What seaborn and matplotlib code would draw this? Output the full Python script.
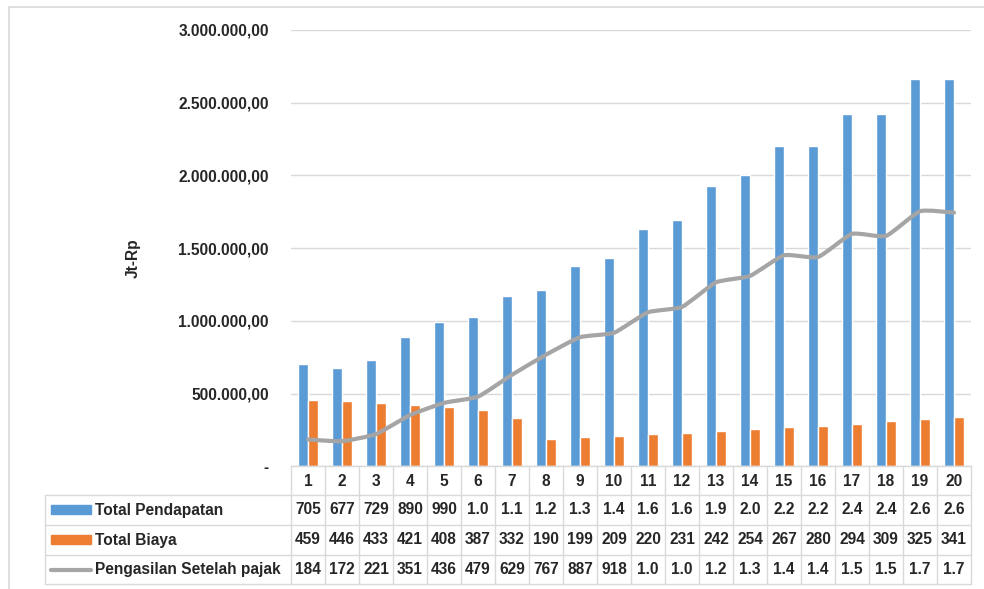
import matplotlib
matplotlib.use("Agg")
import matplotlib.pyplot as plt
import matplotlib.transforms as mtransforms
from matplotlib.path import Path
from matplotlib.patches import PathPatch, Rectangle
from matplotlib.lines import Line2D
import numpy as np
import pandas as pd
import seaborn as sns

# ---- data (Rupiah) ----
tahun = list(range(1, 21))
total_pendapatan = [705_400, 677_300, 729_100, 890_200, 990_500, 1_027_000, 1_168_000,
                    1_213_000, 1_380_000, 1_432_000, 1_630_000, 1_692_000, 1_930_000,
                    2_003_000, 2_201_000, 2_201_000, 2_423_000, 2_423_000, 2_664_000,
                    2_664_000]
total_biaya = [459_200, 446_100, 433_400, 421_300, 408_600, 387_500, 332_400, 190_300,
               199_800, 209_700, 220_200, 231_200, 242_800, 254_900, 267_700, 280_100,
               294_100, 309_800, 325_300, 341_500]
pengasilan_setelah_pajak = [184_300, 172_600, 221_400, 351_900, 436_200, 479_100, 629_500,
                            767_300, 887_600, 918_200, 1_059_000, 1_096_000, 1_265_000,
                            1_309_000, 1_451_000, 1_439_000, 1_598_000, 1_584_000,
                            1_754_000, 1_744_000]
series_names = ["Total Pendapatan", "Total Biaya", "Pengasilan Setelah pajak"]
y_ticks = [0, 500_000, 1_000_000, 1_500_000, 2_000_000, 2_500_000, 3_000_000]

BLUE, ORANGE, GRAY = "#5B9BD5", "#ED7D31", "#A5A5A5"
GRID = "#D9D9D9"

W, H = 984, 589
sns.set_theme(style="white")
plt.rcParams["font.family"] = ["Liberation Sans", "DejaVu Sans"]
plt.rcParams["font.weight"] = "bold"
FS = 11.2


def fx(px):
    return px / W


def fy(py):
    return 1 - py / H


def idr(v, decimals=2):
    s = f"{v:,.{decimals}f}"
    return s.replace(",", "_").replace(".", ",").replace("_", ".")


def cell_text(v):
    # narrow table cells only show the first three characters
    return idr(v, 0)[:3]


fig = plt.figure(figsize=(W / 100, H / 100), dpi=100)
ax = fig.add_axes([fx(291), fy(466.3), fx(971) - fx(291), fy(30) - fy(466.3)])

bars = pd.DataFrame({
    "Tahun": tahun * 2,
    "Nilai": total_pendapatan + total_biaya,
    "Seri": [series_names[0]] * 20 + [series_names[1]] * 20,
})
sns.barplot(data=bars, x="Tahun", y="Nilai", hue="Seri",
            palette=[BLUE, ORANGE], width=0.59, gap=0, dodge=True,
            legend=False, ax=ax, zorder=2, saturation=1)

# lightly smoothed profit line (Bezier segments through each point)
xs = np.arange(len(tahun), dtype=float)
ys = np.array(pengasilan_setelah_pajak, dtype=float)
verts = [(xs[0], ys[0])]
codes = [Path.MOVETO]
n = len(xs)
k = 1.0 / 12.0
for i in range(n - 1):
    p0 = np.array([xs[max(i - 1, 0)], ys[max(i - 1, 0)]])
    p1 = np.array([xs[i], ys[i]])
    p2 = np.array([xs[i + 1], ys[i + 1]])
    p3 = np.array([xs[min(i + 2, n - 1)], ys[min(i + 2, n - 1)]])
    c1 = p1 + (p2 - p0) * k
    c2 = p2 - (p3 - p1) * k
    verts += [tuple(c1), tuple(c2), tuple(p2)]
    codes += [Path.CURVE4] * 3
ax.add_patch(PathPatch(Path(verts, codes), facecolor="none", edgecolor=GRAY,
                       lw=3.0, capstyle="round", joinstyle="round",
                       transform=ax.transData, zorder=3))

ax.set_xlim(-0.5, len(tahun) - 0.5)
ax.set_ylim(0, 3_000_000)
ax.set_yticks(y_ticks)
ax.set_yticklabels(["-" if v == 0 else idr(v) for v in y_ticks],
                   fontsize=FS, fontweight="bold")
ax.tick_params(axis="y", length=0, pad=16)
ax.set_xticks([])
ax.set_xlabel("")
ax.set_ylabel("")
ax.yaxis.grid(True, color=GRID, lw=1.0, zorder=0)
ax.set_axisbelow(True)
for side in ["top", "right", "left"]:
    ax.spines[side].set_visible(False)
ax.spines["bottom"].set_color(GRID)
ax.spines["bottom"].set_linewidth(1.0)

fig.text(fx(133), fy(258), "Jt-Rp", rotation=90, ha="center", va="center",
         fontsize=FS, fontweight="bold")

# ---- data table below the plot ----
bt = mtransforms.blended_transform_factory(ax.transData, fig.transFigure)
row_edges = [466.3, 495, 525, 554.5, 584]
x_left, x_split, x_right = 45, 291, 971
lk = dict(color=GRID, lw=1.0)

for yv in row_edges[1:]:
    fig.add_artist(Line2D([fx(x_left), fx(x_right)], [fy(yv), fy(yv)], **lk))
fig.add_artist(Line2D([fx(x_left), fx(x_left)], [fy(495), fy(584)], **lk))
fig.add_artist(Line2D([fx(x_split), fx(x_split)], [fy(466.3), fy(584)], **lk))
for i in range(len(tahun)):
    xb = i + 0.5
    fig.add_artist(Line2D([xb, xb], [fy(466.3), fy(584)], transform=bt, **lk))

for i, t in enumerate(tahun):
    fig.text(i, fy(481), str(t), transform=bt, ha="center", va="center",
             fontsize=FS, fontweight="bold")

rows = [total_pendapatan, total_biaya, pengasilan_setelah_pajak]
row_centers = [510, 540, 569.5]
for vals, yc in zip(rows, row_centers):
    for i, v in enumerate(vals):
        fig.text(i, fy(yc), cell_text(v), transform=bt, ha="center", va="center",
                 fontsize=FS, fontweight="bold")

# legend keys and series names
fig.add_artist(Rectangle((fx(51), fy(514)), fx(40), fy(505) - fy(514),
                         transform=fig.transFigure, color=BLUE))
fig.add_artist(Rectangle((fx(51), fy(544)), fx(40), fy(535) - fy(544),
                         transform=fig.transFigure, color=ORANGE))
fig.add_artist(Line2D([fx(51), fx(91)], [fy(569.5), fy(569.5)], color=GRAY,
                      lw=3.0, solid_capstyle="round"))
for name, yc in zip(series_names, row_centers):
    fig.text(fx(95), fy(yc), name, ha="left", va="center",
             fontsize=FS, fontweight="bold")

# chart area frame
fig.add_artist(Line2D([fx(9), fx(9)], [fy(7), 0], color=GRID, lw=1.2))
fig.add_artist(Line2D([fx(9), 1], [fy(7), fy(7)], color=GRID, lw=1.2))

fig.savefig("out.png", dpi=100)
